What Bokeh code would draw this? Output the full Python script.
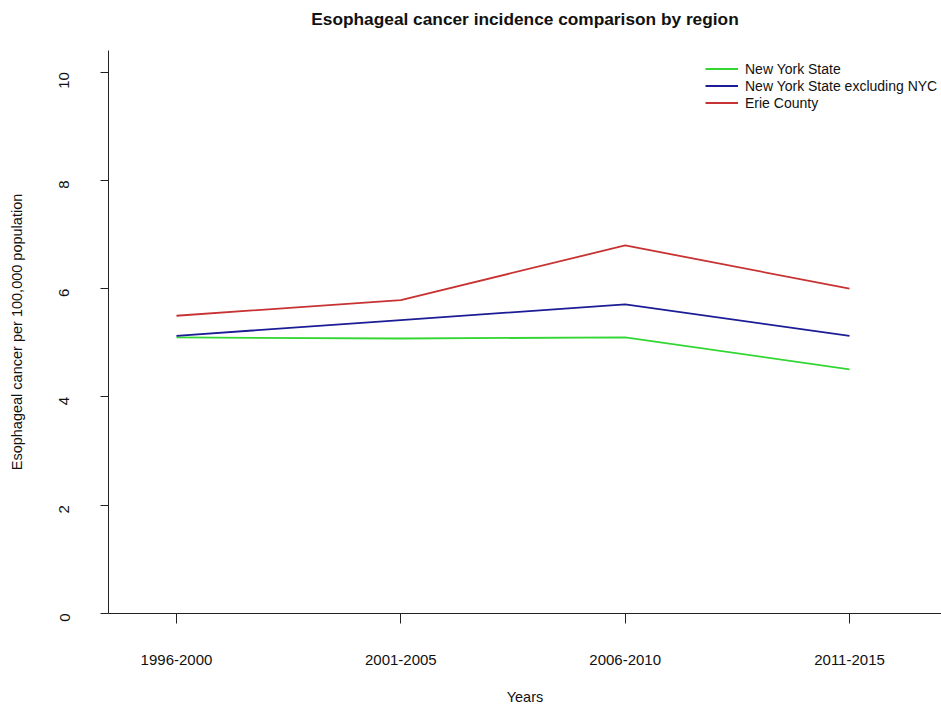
from bokeh.plotting import figure
from bokeh.models import Range1d, FixedTicker, Legend, LegendItem, LinearAxis
from bokeh.embed import file_html
from bokeh.resources import INLINE

title_text = "Esophageal cancer incidence comparison by region"
periods = ["1996-2000", "2001-2005", "2006-2010", "2011-2015"]
x_pos = [1, 2, 3, 4]
new_york_state = [5.10, 5.08, 5.10, 4.51]
nys_excl_nyc = [5.13, 5.42, 5.71, 5.13]
erie_county = [5.50, 5.79, 6.80, 6.00]
y_ticks = [0, 2, 4, 6, 8, 10]

FONT = "Liberation Sans"

p = figure(width=941, height=707, output_backend="svg", toolbar_location=None,
           x_range=Range1d(0.697, 4.41), y_range=Range1d(0, 10.4),
           min_border_left=108, min_border_right=0, min_border_top=50,
           min_border_bottom=94)

p.title.text = title_text
p.title.align = "center"
p.title.offset = -8
p.title.text_font = FONT
p.title.text_font_size = "17.3px"
p.title.text_font_style = "bold"
p.title.text_color = "#111111"
p.title.standoff = 0

# invisible spacer between title and frame (a top axis with a hidden tick)
spacer = LinearAxis(ticker=FixedTicker(ticks=[x_pos[0]]), axis_line_color=None,
                    major_tick_line_color=None, minor_tick_line_color=None,
                    major_tick_in=0, major_tick_out=22, major_label_standoff=0,
                    major_label_overrides={x_pos[0]: ""})
p.add_layout(spacer, "above")

p.outline_line_color = None
p.xgrid.grid_line_color = None
p.ygrid.grid_line_color = None
p.background_fill_color = "white"
p.border_fill_color = "white"

# x axis
xax = p.below[0]
xax.ticker = FixedTicker(ticks=x_pos)
xax.major_label_overrides = {x: lab for x, lab in zip(x_pos, periods)}
xax.axis_label = "Years"
xax.minor_tick_line_color = None
xax.major_tick_in = 0
xax.major_tick_out = 10
xax.major_label_standoff = 31
xax.axis_label_standoff = 21

# y axis
yax = p.left[0]
yax.ticker = FixedTicker(ticks=y_ticks)
yax.axis_label = "Esophageal cancer per 100,000 population"
yax.minor_tick_line_color = None
yax.major_tick_in = 0
yax.major_tick_out = 8
yax.major_label_orientation = 1.5707963
yax.major_label_standoff = 36
yax.axis_label_standoff = 27

for ax in (xax, yax):
    ax.axis_line_color = "#222222"
    ax.major_tick_line_color = "#222222"
    ax.major_label_text_font = FONT
    ax.major_label_text_font_size = "15px"
    ax.major_label_text_color = "#111111"
    ax.axis_label_text_font = FONT
    ax.axis_label_text_font_size = "14.5px"
    ax.axis_label_text_font_style = "normal"
    ax.axis_label_text_color = "#111111"

r1 = p.line(x_pos, new_york_state, line_color="#33d633", line_width=1.8)
r2 = p.line(x_pos, nys_excl_nyc, line_color="#1c1c96", line_width=1.8)
r3 = p.line(x_pos, erie_county, line_color="#c83232", line_width=1.8)

legend = Legend(items=[
    LegendItem(label="New York State", renderers=[r1]),
    LegendItem(label="New York State excluding NYC", renderers=[r2]),
    LegendItem(label="Erie County", renderers=[r3]),
], location=(597, 502))
legend.border_line_color = None
legend.background_fill_alpha = 0
legend.padding = 0
legend.margin = 0
legend.spacing = 0
legend.glyph_width = 33
legend.glyph_height = 17
legend.label_height = 17
legend.label_standoff = 7
legend.label_text_font = FONT
legend.label_text_font_size = "14px"
legend.label_text_color = "#111111"
p.add_layout(legend)

open("out.html", "w").write(file_html(p, INLINE))
